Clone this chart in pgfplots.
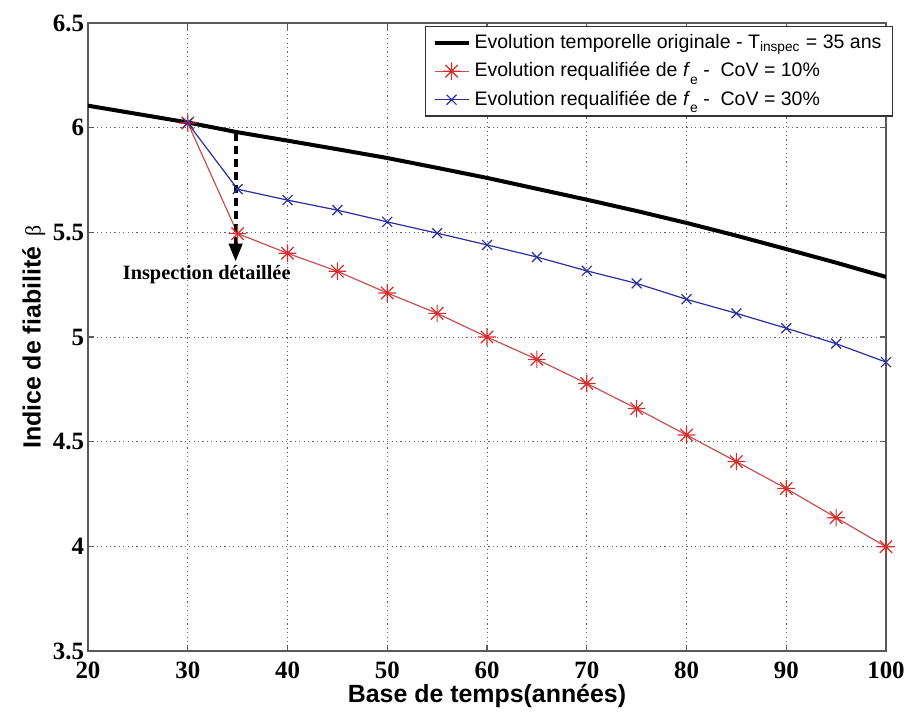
\documentclass[border=0pt]{standalone}
\usepackage{fontspec}
\setmainfont{Liberation Serif}
\newfontfamily\arial{Liberation Sans}
\usepackage{pgfplots}
\pgfplotsset{compat=1.18}
\usetikzlibrary{arrows.meta}

\pgfdeclareplotmark{ast8}{%
  \pgfpathmoveto{\pgfqpoint{-\pgfplotmarksize}{0pt}}%
  \pgfpathlineto{\pgfqpoint{\pgfplotmarksize}{0pt}}%
  \pgfpathmoveto{\pgfqpoint{0pt}{-\pgfplotmarksize}}%
  \pgfpathlineto{\pgfqpoint{0pt}{\pgfplotmarksize}}%
  \pgfpathmoveto{\pgfqpoint{-.7071\pgfplotmarksize}{-.7071\pgfplotmarksize}}%
  \pgfpathlineto{\pgfqpoint{.7071\pgfplotmarksize}{.7071\pgfplotmarksize}}%
  \pgfpathmoveto{\pgfqpoint{-.7071\pgfplotmarksize}{.7071\pgfplotmarksize}}%
  \pgfpathlineto{\pgfqpoint{.7071\pgfplotmarksize}{-.7071\pgfplotmarksize}}%
  \pgfusepathqstroke}

\definecolor{myred}{RGB}{215,45,45}
\definecolor{myredline}{RGB}{200,80,80}
\definecolor{myblue}{RGB}{45,45,160}

\pgfplotstableread{
x y
20 6.105
25 6.065
30 6.025
35 5.978
40 5.938
45 5.897
50 5.855
55 5.808
60 5.760
65 5.708
70 5.656
75 5.602
80 5.545
85 5.484
90 5.420
95 5.355
100 5.287
}\orig

\pgfplotstableread{
x y
30 6.022
35 5.494
40 5.400
45 5.314
50 5.210
55 5.113
60 5.000
65 4.893
70 4.778
75 4.658
80 4.532
85 4.405
90 4.276
95 4.137
100 3.998
}\covten

\pgfplotstableread{
x y
30 6.022
35 5.706
40 5.654
45 5.606
50 5.550
55 5.496
60 5.440
65 5.382
70 5.316
75 5.256
80 5.180
85 5.113
90 5.042
95 4.968
100 4.880
}\covthirty

\begin{document}
\begin{tikzpicture}
\begin{axis}[
  scale only axis,
  width=399bp, height=314bp,
  xmin=20, xmax=100, ymin=3.5, ymax=6.5,
  xtick={20,30,...,100},
  ytick={3.5,4,4.5,5,5.5,6,6.5},
  yticklabels={3.5,4,4.5,5,5.5,6,6.5},
  grid=major,
  major grid style={black!60, line width=0.5bp, dash pattern=on 0.6bp off 1.6bp},
  tick align=inside,
  tick pos=both,
  major tick length=3bp,
  axis line style={black!65, line width=0.8bp},
  every tick/.style={black!65, line width=0.6bp},
  /pgf/number format/assume math mode=true,
  ticklabel style={font=\bfseries\fontsize{12.5}{14}\selectfont},
  xticklabel style={yshift=-2bp},
  yticklabel style={xshift=1.5bp},
  xlabel={Base de temps(années)},
  ylabel={Indice de fiabilité {\normalfont\fontsize{11}{12}\selectfont\,β}},
  label style={font=\arial\bfseries\fontsize{12.5}{14}\selectfont},
  xlabel style={at={(axis description cs:0.5,-0.072)}, anchor=center},
  ylabel style={at={(axis description cs:-0.068,0.5)}, anchor=center},
  legend style={
    at={(axis description cs:1,1)}, anchor=north east,
    xshift=3.5bp, yshift=-1.5bp,
    draw=black!80, line width=0.6bp,
    font=\arial\fontsize{9.8}{12}\selectfont,
    inner xsep=3.5bp, inner ysep=1.8bp,
    row sep=1.6bp,
    cells={anchor=west},
  },
]
\addplot[black, line width=2bp] table[x=x,y=y] {\orig};
\addlegendentry{Evolution temporelle originale - T\textsubscript{inspec} = 35 ans}
\addplot[myredline, line width=0.6bp, mark=ast8, mark size=4.4bp,
  mark options={myred, line width=0.6bp}] table[x=x,y=y] {\covten};
\addlegendentry{Evolution requalifiée de \textit{f}\raisebox{-0.7ex}{\fontsize{7}{8}\selectfont e}\ - \ CoV = 10\%}
\addplot[myblue, line width=0.6bp, mark=x, mark size=3.5bp,
  mark options={myblue, line width=0.6bp}] table[x=x,y=y] {\covthirty};
\addlegendentry{Evolution requalifiée de \textit{f}\raisebox{-0.7ex}{\fontsize{7}{8}\selectfont e}\ - \ CoV = 30\%}

\draw[black, line width=2bp, dash pattern=on 4bp off 2.5bp,
  -{Triangle[width=6.5bp,length=9bp]}]
  (axis cs:34.8,5.975) -- (axis cs:34.8,5.36);
\node[font=\bfseries\fontsize{10.2}{12}\selectfont, anchor=center]
  at (axis cs:31.9,5.30) {Inspection détaillée};
\end{axis}
\pgfresetboundingbox
\path[use as bounding box]
  ([shift={(-44bp,-31bp)}]current axis.south west)
  rectangle ([shift={(11bp,11.5bp)}]current axis.north east);
\end{tikzpicture}
\end{document}
